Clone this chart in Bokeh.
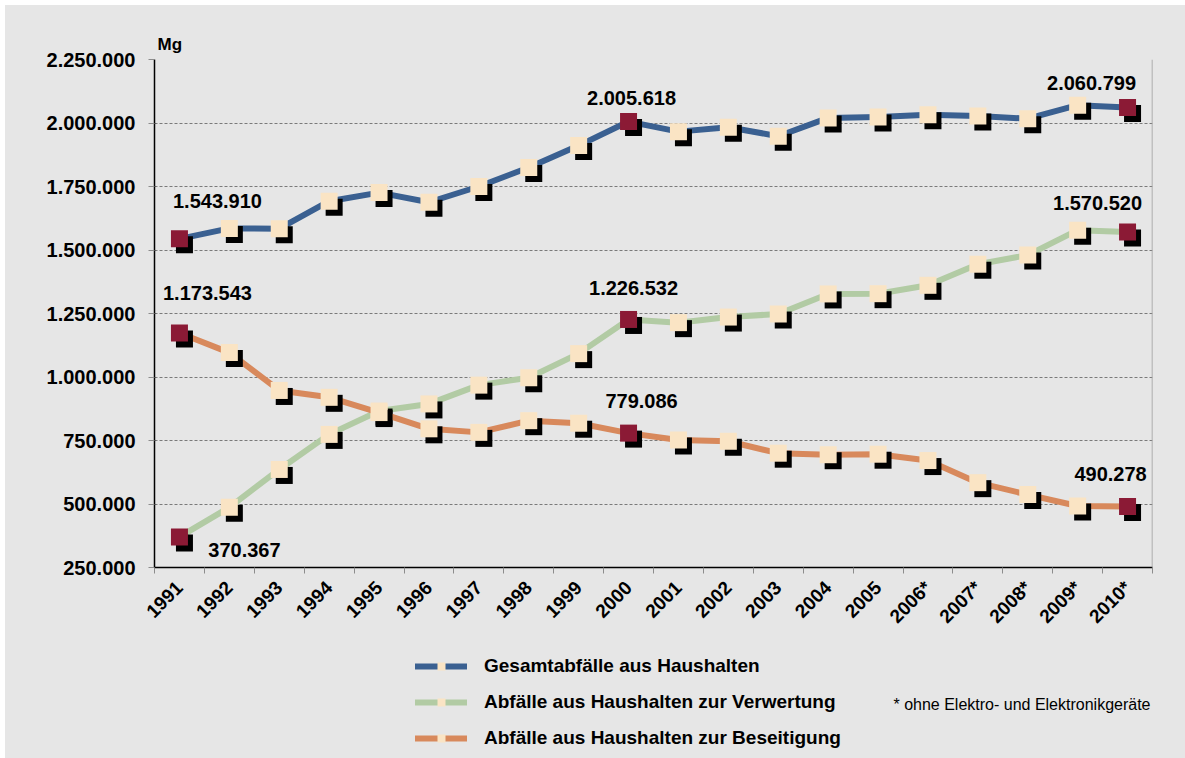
import math
from bokeh.plotting import figure
from bokeh.layouts import column
from bokeh.models import (Range1d, FixedTicker, Span, Label, Legend, LegendItem,
                          ColumnDataSource)
from bokeh.transform import dodge
from bokeh.embed import file_html
from bokeh.resources import INLINE
from bokeh.core.properties import value

# ---------------- data ----------------
years = ["1991", "1992", "1993", "1994", "1995", "1996", "1997", "1998", "1999", "2000",
         "2001", "2002", "2003", "2004", "2005", "2006*", "2007*", "2008*", "2009*", "2010*"]

gesamt = [1543910, 1585000, 1584000, 1692000, 1726000, 1688000, 1750000, 1825000, 1911000, 2005618,
          1966000, 1983000, 1948000, 2020000, 2024000, 2032000, 2028000, 2017000, 2070000, 2060799]
verwertung = [370367, 487000, 636000, 774000, 866000, 894000, 968000, 997000, 1092000, 1226532,
              1214000, 1236000, 1248000, 1327000, 1328000, 1361000, 1444000, 1480000, 1578000, 1570520]
beseitigung = [1173543, 1096000, 947000, 920000, 860000, 796000, 782000, 828000, 818000, 779086,
               752000, 747000, 700000, 694000, 696000, 671000, 584000, 537000, 492000, 490278]

series_names = ["Gesamtabfälle aus Haushalten",
                "Abfälle aus Haushalten zur Verwertung",
                "Abfälle aus Haushalten zur Beseitigung"]
y_ticks = [250000, 500000, 750000, 1000000, 1250000, 1500000, 1750000, 2000000, 2250000]
unit_label = "Mg"
footnote = "* ohne Elektro- und Elektronikgeräte"
highlight_idx = [0, 9, 19]

# ---------------- styling ----------------
FONT = "Liberation Sans"
BG = "#E6E6E6"
line_colors = ["#3A6091", "#B2CBA4", "#D8895C"]
CREAM = "#FAE4C4"
RED = "#8B1A35"

label_offsets = [
    [(38, -38), (3, -24), (-36, -25)],
    [(65, 13), (5, -31), (-30, -29)],
    [(28, -40), (13, -32), (-17, -32)],
]

W = 1180
H1, H2 = 635, 118
FRAME_W = 998

p = figure(width=W, height=H1, output_backend="svg", toolbar_location=None,
           x_range=Range1d(0, len(years)), y_range=Range1d(y_ticks[0], y_ticks[-1]),
           min_border_left=149, min_border_right=33, min_border_top=54, min_border_bottom=73)
p.background_fill_color = BG
p.border_fill_color = BG
p.outline_line_color = None

p.title.text = unit_label
p.title.align = "left"
p.title.offset = 3
p.title.text_font = FONT
p.title.text_font_style = "bold"
p.title.text_font_size = "17px"
p.title.text_color = "black"
p.title.standoff = 12

xa = p.xaxis[0]
xa.ticker = FixedTicker(ticks=[i + 0.5 for i in range(len(years))],
                        minor_ticks=list(range(len(years) + 1)))
xa.major_label_overrides = {i + 0.5: y for i, y in enumerate(years)}
xa.major_tick_out = 0
xa.major_tick_in = 0
xa.minor_tick_out = 6
xa.minor_tick_in = 0
xa.minor_tick_line_color = "#8C8C8C"
xa.axis_line_color = "black"
xa.axis_line_width = 1.5
xa.major_label_orientation = math.pi / 4
xa.major_label_text_font = FONT
xa.major_label_text_font_style = "bold"
xa.major_label_text_font_size = "19px"
xa.major_label_text_color = "black"
xa.major_label_standoff = 11

ya = p.yaxis[0]
ya.ticker = FixedTicker(ticks=y_ticks)
ya.major_label_overrides = {v: f"{v:,}".replace(",", ".") for v in y_ticks}
ya.major_tick_out = 6
ya.major_tick_in = 0
ya.major_tick_line_color = "#8C8C8C"
ya.minor_tick_out = 0
ya.minor_tick_in = 0
ya.axis_line_color = "black"
ya.axis_line_width = 1.5
ya.major_label_text_font = FONT
ya.major_label_text_font_style = "bold"
ya.major_label_text_font_size = "20px"
ya.major_label_text_color = "black"
ya.major_label_standoff = 13

p.xgrid.visible = False
p.ygrid.grid_line_color = "#7A7A7A"
p.ygrid.grid_line_dash = "3 2"
p.ygrid.grid_line_width = 1

p.add_layout(Span(location=len(years), dimension="height", line_color="#9A9A9A", line_width=1.5))

px_x = len(years) / float(FRAME_W)
px_y = (y_ticks[-1] - y_ticks[0]) / 508.0

# legend / footnote panel (its frame is aligned with the chart frame by the column)
p2 = figure(width=W, height=H2, output_backend="svg", toolbar_location=None,
            x_range=Range1d(0, FRAME_W), y_range=Range1d(0, H2),
            x_axis_type=None, y_axis_type=None,
            min_border_left=0, min_border_right=0, min_border_top=0, min_border_bottom=0)
p2.background_fill_color = BG
p2.border_fill_color = BG
p2.outline_line_color = BG
p2.outline_line_width = 2
p2.grid.visible = False

all_series = [gesamt, verwertung, beseitigung]
legend_items = []
for s, vals in enumerate(all_series):
    src = ColumnDataSource(dict(
        x=[i + 0.5 for i in range(len(years))],
        y=vals,
        c=[RED if i in highlight_idx else CREAM for i in range(len(years))],
    ))
    p.line("x", "y", source=src, line_color=line_colors[s], line_width=6, line_join="round")
    p.scatter(dodge("x", 5 * px_x, range=p.x_range), dodge("y", -6 * px_y, range=p.y_range),
              source=src, marker="square", size=17, fill_color="black", line_color=None)
    p.scatter("x", "y", source=src, marker="square", size=17, fill_color="c", line_color=None)

    lab_src = ColumnDataSource(dict(
        x=[highlight_idx[k] + 0.5 for k in range(3)],
        y=[vals[highlight_idx[k]] for k in range(3)],
        t=[f"{vals[highlight_idx[k]]:,}".replace(",", ".") for k in range(3)],
        dx=[label_offsets[s][k][0] for k in range(3)],
        dy=[label_offsets[s][k][1] for k in range(3)],
    ))
    p.text("x", "y", text="t", x_offset="dx", y_offset="dy", source=lab_src,
           text_font=value(FONT), text_font_style="bold", text_font_size="20px",
           text_color="black", text_align="center", text_baseline="middle")

    # legend-only renderers: one point far outside the visible range
    dummy = ColumnDataSource(dict(x=[-1000], y=[-1000]))
    lr = p2.line("x", "y", source=dummy, line_color=line_colors[s], line_width=6, line_cap="round")
    mr = p2.scatter("x", "y", source=dummy, marker="square", size=11, fill_color=CREAM, line_color=None)
    legend_items.append(LegendItem(label=series_names[s], renderers=[lr, mr]))

legend = Legend(items=legend_items, location=(261, 9), orientation="vertical",
                glyph_width=52, glyph_height=20, label_height=20, spacing=14,
                padding=0, margin=0, label_standoff=17,
                border_line_color=None, background_fill_alpha=0,
                label_text_font=FONT, label_text_font_style="bold",
                label_text_font_size="19px", label_text_color="black")
p2.add_layout(legend)

p2.add_layout(Label(x=FRAME_W - 2, y=54, text=footnote,
                    text_font=FONT, text_font_size="16px", text_color="black",
                    text_align="right", text_baseline="middle"))

layout = column(p, p2, spacing=0, margin=(5, 0, 0, 5))
layout.styles = {"background-color": BG}
open("out.html", "w").write(file_html(layout, INLINE))
